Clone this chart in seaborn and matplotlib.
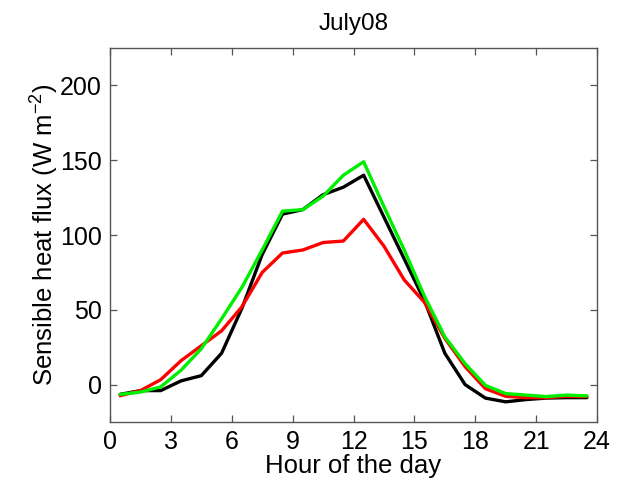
import matplotlib
matplotlib.use("Agg")
import matplotlib.pyplot as plt
import pandas as pd
import seaborn as sns

# Diurnal cycle of sensible heat flux, hourly means at half-hour marks
hours = [0.5, 1.5, 2.5, 3.5, 4.5, 5.5, 6.5, 7.5, 8.5, 9.5, 10.5, 11.5,
         12.5, 13.5, 14.5, 15.5, 16.5, 17.5, 18.5, 19.5, 20.5, 21.5, 22.5, 23.5]

flux_black = [-6.5, -4, -4, 2.5, 6, 21, 51, 87, 114, 117, 127, 132,
              140, 112, 84, 56, 21, 0, -9, -11.5, -10, -9, -8.7, -8.7]
flux_red = [-7.4, -4, 3.3, 16, 26, 36, 52, 75, 88, 90, 95, 96,
            110.5, 92.6, 70, 55, 31, 12, -2.7, -7.8, -8.7, -8.7, -7.8, -8]
flux_green = [-6.5, -5, -1.5, 9.6, 24, 44, 65, 90, 116, 117, 126, 140,
              149, 119, 90, 59, 32, 14, -0.5, -6, -7, -8, -7, -7.5]

series_names = ["black", "red", "green"]
series_colors = ["#000000", "#ff0000", "#00ee00"]

x_ticks = [0, 3, 6, 9, 12, 15, 18, 21, 24]
y_ticks = [0, 50, 100, 150, 200]

title_text = "July08"
x_label = "Hour of the day"
y_label = r"Sensible heat flux (W m$^{-2}$)"

frames = []
for name, vals in zip(series_names, [flux_black, flux_red, flux_green]):
    frames.append(pd.DataFrame({"hour": hours, "flux": vals, "series": name}))
df = pd.concat(frames, ignore_index=True)

sns.set_style("white")
plt.rcParams["font.family"] = ["Liberation Sans", "DejaVu Sans"]
plt.rcParams["mathtext.fontset"] = "custom"
plt.rcParams["mathtext.rm"] = "Liberation Sans"
plt.rcParams["mathtext.it"] = "Liberation Sans"
plt.rcParams["text.color"] = "black"
plt.rcParams["axes.labelcolor"] = "black"

fig = plt.figure(figsize=(6.26, 4.8), dpi=100)
ax = fig.add_axes([0.1757, 0.1208, 0.778, 0.779])

sns.lineplot(data=df, x="hour", y="flux", hue="series",
             palette=dict(zip(series_names, series_colors)),
             hue_order=series_names, sort=False, legend=False,
             linewidth=2.4, ax=ax)

ax.set_xlim(0, 24)
ax.set_ylim(-25, 225)
ax.set_xticks(x_ticks)
ax.set_yticks(y_ticks)

spine_color = "#555555"
for s in ax.spines.values():
    s.set_visible(True)
    s.set_color(spine_color)
    s.set_linewidth(1.0)

ax.tick_params(direction="in", length=5, width=0.9, color=spine_color,
               top=True, right=True, bottom=True, left=True,
               labelsize=18, labelcolor="black", pad=6)

ax.set_title(title_text, fontsize=17.5, pad=13, color="black")
ax.set_xlabel(x_label, fontsize=18.5, labelpad=0)
ax.set_ylabel(y_label, fontsize=18.5, labelpad=-1)

fig.savefig("out.png", dpi=100, facecolor="white")
